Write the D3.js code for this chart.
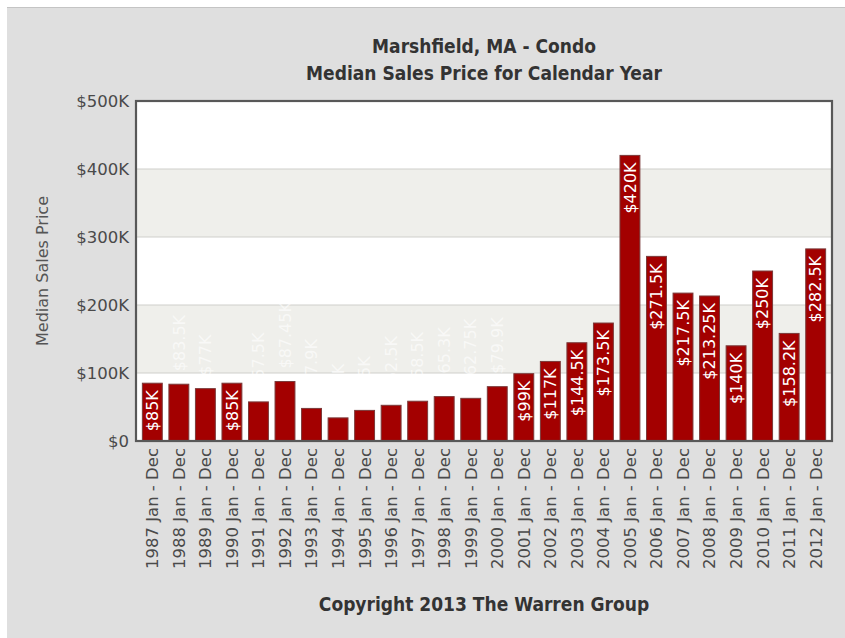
<!DOCTYPE html>
<html>
<head>
<meta charset="utf-8">
<script src="https://cdn.jsdelivr.net/npm/d3@7"></script>
<style>
  html, body { margin: 0; padding: 0; background: #ffffff; }
  svg { display: block; }
</style>
</head>
<body>
<svg id="chart" width="845" height="638"></svg>
<script>
// Median condo sales price per calendar year, in thousands of dollars
const years = ["1987","1988","1989","1990","1991","1992","1993","1994","1995","1996","1997","1998","1999",
               "2000","2001","2002","2003","2004","2005","2006","2007","2008","2009","2010","2011","2012"];
const medianPriceK = [85, 83.5, 77, 85, 57.5, 87.45, 47.9, 34, 45, 52.5, 58.5, 65.3, 62.75,
                      79.9, 99, 117, 144.5, 173.5, 420, 271.5, 217.5, 213.25, 140, 250, 158.2, 282.5];
const yTicks = [0, 100, 200, 300, 400, 500];
const titleLines = ["Marshfield, MA - Condo", "Median Sales Price for Calendar Year"];
const yAxisTitle = "Median Sales Price";
const footer = "Copyright 2013 The Warren Group";

const svg = d3.select("#chart");
const W = 845, H = 638;
const plot = { left: 136, top: 101, right: 832, bottom: 441 };
const bodyFont = "DejaVu Sans, Verdana, sans-serif";
const headFont = "DejaVu Sans Condensed, DejaVu Sans, sans-serif";

// background panel
svg.append("rect").attr("x", 7).attr("y", 7).attr("width", W - 7).attr("height", H - 7)
  .attr("fill", "#dfdfdf");
svg.append("line").attr("x1", 7).attr("x2", W).attr("y1", 7.5).attr("y2", 7.5)
  .attr("stroke", "#c4c4c4").attr("stroke-width", 1);

const x = d3.scaleBand().domain(years).range([plot.left, plot.right])
  .paddingInner(0.25).paddingOuter(0.24);
const y = d3.scaleLinear().domain([0, 500]).range([plot.bottom, plot.top]);

// plot background with alternating bands
const bands = d3.pairs(yTicks);
svg.append("g").selectAll("rect").data(bands).join("rect")
  .attr("x", plot.left).attr("width", plot.right - plot.left)
  .attr("y", d => y(d[1])).attr("height", d => y(d[0]) - y(d[1]))
  .attr("fill", (d, i) => i % 2 === 1 ? "#efefeb" : "#ffffff");

// gridlines
svg.append("g").selectAll("line").data(yTicks.slice(1, -1)).join("line")
  .attr("x1", plot.left).attr("x2", plot.right)
  .attr("y1", d => y(d)).attr("y2", d => y(d))
  .attr("stroke", "#cfcfcb").attr("stroke-width", 1);

// bars
svg.append("g").selectAll("rect").data(years).join("rect")
  .attr("x", d => x(d)).attr("width", x.bandwidth())
  .attr("y", (d, i) => y(medianPriceK[i]))
  .attr("height", (d, i) => y(0) - y(medianPriceK[i]))
  .attr("fill", "#a30000").attr("stroke", "#7a3a3a").attr("stroke-width", 1);

// value labels: inside the bar when they fit, otherwise just above it
const fmt = v => "$" + v + "K";
const labels = svg.append("g").attr("font-family", bodyFont)
  .attr("font-size", 16).attr("fill", "#ffffff");
years.forEach((yr, i) => {
  const v = medianPriceK[i];
  const cx = x(yr) + x.bandwidth() / 2;
  const top = y(v);
  const t = labels.append("text").text(fmt(v)).attr("dy", "0.36em");
  const len = t.node().getComputedTextLength();
  const barH = y(0) - top;
  if (len + 14 <= barH) {
    t.attr("text-anchor", "end")
     .attr("transform", `translate(${cx},${top + 7}) rotate(-90)`);
  } else {
    t.attr("text-anchor", "start").attr("opacity", 0.6)
     .attr("transform", `translate(${cx},${top - 13}) rotate(-90)`);
  }
});

// y axis
const yAxis = d3.axisLeft(y).tickValues(yTicks)
  .tickFormat(d => d === 0 ? "$0" : "$" + d + "K").tickSize(0).tickPadding(7);
const ga = svg.append("g").attr("transform", `translate(${plot.left},0)`).call(yAxis);
ga.select(".domain").remove();
ga.selectAll("text").attr("font-family", bodyFont)
  .attr("font-size", 16.5).attr("fill", "#4a4a4a");

// x axis
const xAxis = d3.axisBottom(x).tickFormat(d => d + " Jan - Dec").tickSize(0).tickPadding(0);
const gx = svg.append("g").attr("transform", `translate(0,${plot.bottom})`).call(xAxis);
gx.select(".domain").remove();
gx.selectAll("text")
  .attr("font-family", bodyFont).attr("font-size", 16.5)
  .attr("fill", "#4a4a4a")
  .attr("text-anchor", "end").attr("dy", "0.36em").attr("y", 0)
  .attr("transform", "translate(0,7) rotate(-90)");

// frame
svg.append("rect").attr("x", plot.left).attr("y", plot.top)
  .attr("width", plot.right - plot.left).attr("height", plot.bottom - plot.top)
  .attr("fill", "none").attr("stroke", "#585858").attr("stroke-width", 2.2);

// titles
const cxTitle = (plot.left + plot.right) / 2;
svg.append("g").selectAll("text").data(titleLines).join("text")
  .attr("x", cxTitle).attr("y", (d, i) => 53 + i * 27)
  .attr("text-anchor", "middle")
  .attr("font-family", headFont)
  .attr("font-weight", "bold").attr("font-size", 19).attr("fill", "#333")
  .text(d => d);

svg.append("text")
  .attr("transform", `translate(48,${(plot.top + plot.bottom) / 2}) rotate(-90)`)
  .attr("text-anchor", "middle")
  .attr("font-family", bodyFont).attr("font-size", 16)
  .attr("fill", "#555").text(yAxisTitle);

svg.append("text").attr("x", cxTitle).attr("y", 611).attr("text-anchor", "middle")
  .attr("font-family", headFont)
  .attr("font-weight", "bold").attr("font-size", 19).attr("fill", "#333")
  .text(footer);
</script>
</body>
</html>
